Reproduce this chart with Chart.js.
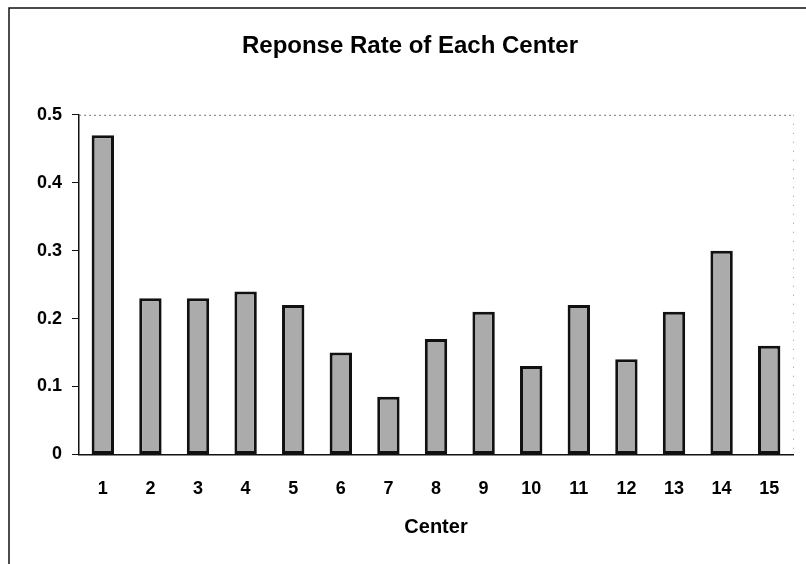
<!DOCTYPE html>
<html>
<head>
<meta charset="utf-8">
<script src="https://cdn.jsdelivr.net/npm/chart.js@4.4.0/dist/chart.umd.min.js"></script>
<style>
html,body{margin:0;padding:0;background:#fff;}
#wrap{width:806px;height:564px;position:relative;}
</style>
</head>
<body>
<div id="wrap"><canvas id="c" width="806" height="564"></canvas></div>
<script>
const categories = ["1","2","3","4","5","6","7","8","9","10","11","12","13","14","15"];
const responseRate = [0.47,0.23,0.23,0.24,0.22,0.15,0.085,0.17,0.21,0.13,0.22,0.14,0.21,0.30,0.16];
const yTicks = [0,0.1,0.2,0.3,0.4,0.5];

const FONT = "'Liberation Sans', Arial, sans-serif";

const framePlugin = {
  id: 'frame',
  beforeDraw(chart){
    const ctx = chart.ctx;
    ctx.save();
    ctx.fillStyle = '#fff';
    ctx.fillRect(0,0,chart.width,chart.height);
    ctx.strokeStyle = '#111';
    ctx.lineWidth = 1.5;
    ctx.beginPath();
    ctx.moveTo(9, chart.height);
    ctx.lineTo(9, 8);
    ctx.lineTo(chart.width, 8);
    ctx.stroke();
    ctx.restore();
  },
  afterDatasetsDraw(chart){
    const ctx = chart.ctx, a = chart.chartArea;
    ctx.save();
    ctx.strokeStyle = '#777';
    ctx.lineWidth = 1;
    ctx.setLineDash([2,3]);
    ctx.beginPath();
    ctx.moveTo(a.left, a.top+0.5);
    ctx.lineTo(a.right, a.top+0.5);
    ctx.stroke();
    ctx.strokeStyle = '#999';
    ctx.setLineDash([1,8]);
    ctx.beginPath();
    ctx.moveTo(a.right+0.5, a.top);
    ctx.lineTo(a.right+0.5, a.bottom);
    ctx.stroke();
    ctx.restore();
  }
};

new Chart(document.getElementById('c'), {
  type: 'bar',
  data: {
    labels: categories,
    datasets: [{
      data: responseRate,
      backgroundColor: '#ababab',
      borderColor: '#111',
      borderWidth: 3,
      borderSkipped: false,
      barPercentage: 0.47,
      categoryPercentage: 1.0
    }]
  },
  options: {
    responsive: false,
    animation: false,
    devicePixelRatio: 1,
    layout: { padding: { left: 27, right: 13, top: 22, bottom: 25 } },
    plugins: {
      legend: { display: false },
      tooltip: { enabled: false },
      title: {
        display: true,
        text: 'Reponse Rate of Each Center',
        color: '#000',
        font: { family: FONT, size: 24, weight: 'bold' },
        padding: { top: 10, bottom: 54 }
      }
    },
    scales: {
      x: {
        grid: { display: false, drawTicks: false },
        border: { display: true, color: '#111', width: 1.5 },
        ticks: { color: '#000', font: { family: FONT, size: 18, weight: 'bold' }, padding: 24, maxRotation: 0 },
        title: { display: true, text: 'Center', color: '#000', font: { family: FONT, size: 20, weight: 'bold' }, padding: { top: -9, bottom: 0 } }
      },
      y: {
        min: 0, max: 0.5,
        afterBuildTicks(scale){ scale.ticks = yTicks.map(v => ({ value: v })); },
        grid: { drawOnChartArea: false, drawTicks: true, tickLength: 7, color: '#111' },
        border: { display: true, color: '#111', width: 1.5 },
        ticks: { color: '#000', font: { family: FONT, size: 18, weight: 'bold' }, padding: 10,
          callback: v => String(Math.round(v*10)/10) }
      }
    }
  },
  plugins: [framePlugin]
});
</script>
</body>
</html>
